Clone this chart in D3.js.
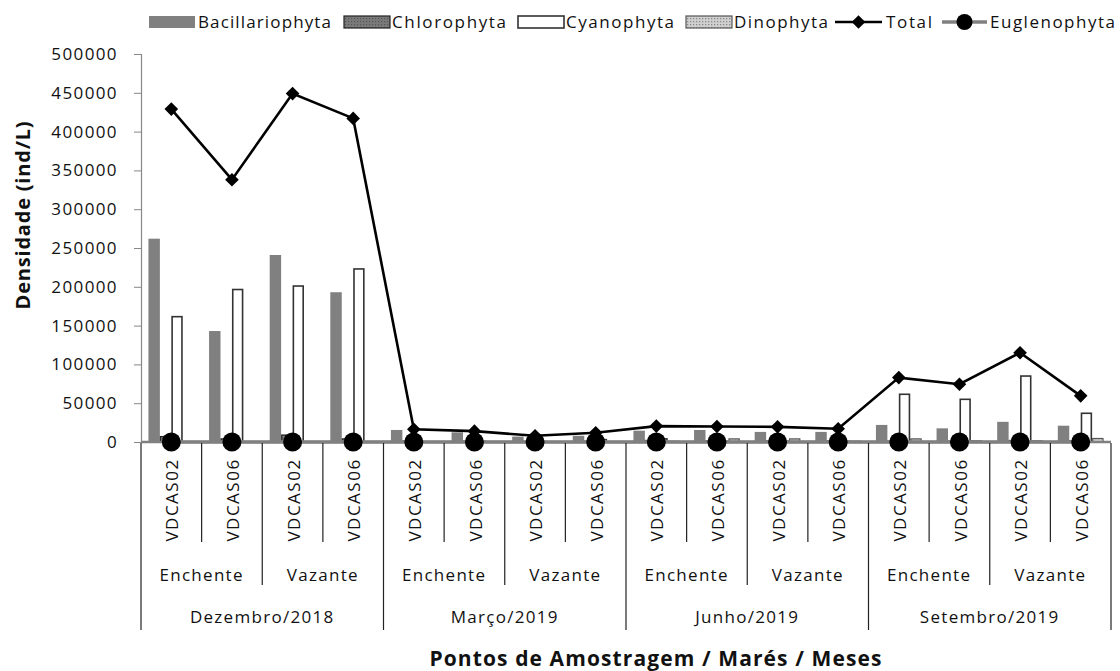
<!DOCTYPE html>
<html><head><meta charset="utf-8">
<script src="https://cdn.jsdelivr.net/npm/d3@7"></script>
<style>
body{margin:0;background:#fff}
text{font-family:"Open Sans",sans-serif;fill:#111}
</style>
</head><body>
<svg id="c" width="1120" height="671"></svg>
<script>
const months=["Dezembro/2018","Março/2019","Junho/2019","Setembro/2019"];
const tides=["Enchente","Vazante"];
const points=["VDCAS02","VDCAS06"];
const seriesNames=["Bacillariophyta","Chlorophyta","Cyanophyta","Dinophyta"];
const bacillariophyta=[262000,143000,241000,193000,15500,12500,7000,8000,14600,15500,13000,13000,22000,17600,26000,21000];
const chlorophyta=[7000,4000,9000,4000,1500,1000,800,1000,2000,1500,1500,1500,1000,1000,2000,1500];
const cyanophyta=[161500,196500,201000,223000,500,1000,500,3000,4000,1000,1000,1000,61500,55000,85000,37000];
const dinophyta=[500,300,500,300,300,300,300,300,1000,4000,4000,1000,4000,1500,1500,4500];
const euglenophyta=[0,0,0,0,0,0,0,0,0,0,0,0,0,0,0,0];
const total=[429000,338000,449000,417000,16500,14000,8000,12000,20500,20000,19500,17000,83000,74500,115000,59500];
const yTicks=[0,50000,100000,150000,200000,250000,300000,350000,400000,450000,500000];

const cats=[];
months.forEach(m=>tides.forEach(t=>points.forEach(p=>cats.push({m,t,p}))));
const seriesVals=[bacillariophyta,chlorophyta,cyanophyta,dinophyta];

const svg=d3.select("#c");
const L=141,R=1111,T=54,B=442;
const x0=d3.scaleBand().domain(d3.range(cats.length)).range([L,R]);
const x1=d3.scaleBand().domain(seriesNames).range([0,x0.bandwidth()]).paddingOuter(0.65);
const y=d3.scaleLinear().domain([0,500000]).range([B,T]);

const defs=svg.append("defs");
const pat=defs.append("pattern").attr("id","dots").attr("width",3).attr("height",3).attr("patternUnits","userSpaceOnUse");
pat.append("rect").attr("width",3).attr("height",3).attr("fill","#d0d0d0");
pat.append("rect").attr("width",1.3).attr("height",1.3).attr("fill","#8a8a8a");
const pat2=defs.append("pattern").attr("id","dark").attr("width",3).attr("height",3).attr("patternUnits","userSpaceOnUse");
pat2.append("rect").attr("width",3).attr("height",3).attr("fill","#7a7a7a");
pat2.append("rect").attr("width",1.2).attr("height",1.2).attr("fill","#555");

const styles={
 Bacillariophyta:{fill:"#808080",stroke:"none",sw:0},
 Chlorophyta:{fill:"url(#dark)",stroke:"#222",sw:1.2},
 Cyanophyta:{fill:"#fff",stroke:"#333",sw:1.6},
 Dinophyta:{fill:"url(#dots)",stroke:"#555",sw:1.2}
};

// y axis
const ya=svg.append("g").attr("transform",`translate(${L},0)`)
 .call(d3.axisLeft(y).tickValues(yTicks).tickSize(7).tickPadding(16).tickFormat(d3.format("d")));
ya.select(".domain").attr("stroke","#888").attr("stroke-width",1.2);
ya.selectAll(".tick line").attr("stroke","#888");
ya.selectAll(".tick text").attr("font-size",17).attr("letter-spacing","1.4px").attr("fill","#111").attr("font-family","Open Sans");

// bars
seriesNames.forEach((s,si)=>{
 const st=styles[s];
 svg.append("g").selectAll("rect").data(seriesVals[si]).join("rect")
  .attr("x",(d,i)=>x0(i)+x1(s)+st.sw/2)
  .attr("width",x1.bandwidth()-st.sw)
  .attr("y",d=>y(d))
  .attr("height",d=>Math.max(0,B-y(d)))
  .attr("fill",st.fill).attr("stroke",st.stroke).attr("stroke-width",st.sw);
});

const cx=i=>x0(i)+x0.bandwidth()/2;

// Euglenophyta line
svg.append("path").datum(euglenophyta)
 .attr("d",d3.line().x((d,i)=>cx(i)).y(d=>y(d)))
 .attr("fill","none").attr("stroke","#808080").attr("stroke-width",3.5);
svg.append("line").attr("x1",L).attr("x2",R).attr("y1",B).attr("y2",B).attr("stroke","#808080").attr("stroke-width",2.5);

// Total line
svg.append("path").datum(total)
 .attr("d",d3.line().x((d,i)=>cx(i)).y(d=>y(d)))
 .attr("fill","none").attr("stroke","#000").attr("stroke-width",2.6);
const diamond="M0,-6.8L6.8,0L0,6.8L-6.8,0Z";
svg.append("g").selectAll("path").data(total).join("path")
 .attr("transform",(d,i)=>`translate(${cx(i)},${y(d)})`).attr("d",diamond).attr("fill","#000");

svg.append("g").selectAll("circle").data(euglenophyta).join("circle")
 .attr("cx",(d,i)=>cx(i)).attr("cy",d=>y(d)).attr("r",9.5).attr("fill","#000");

// category axis lines
const bounds=d3.range(cats.length+1);
svg.append("g").selectAll("line").data(bounds).join("line")
 .attr("x1",i=>i<cats.length?x0(i):R).attr("x2",i=>i<cats.length?x0(i):R)
 .attr("y1",B+1)
 .attr("y2",i=>i%4===0?630:(i%2===0?585:542))
 .attr("stroke","#222").attr("stroke-width",1.2);

// point labels
svg.append("g").selectAll("text").data(cats).join("text")
 .attr("transform",(d,i)=>`translate(${cx(i)+1},500) rotate(-90)`)
 .attr("text-anchor","middle").attr("dy","0.36em")
 .attr("font-size",17).attr("letter-spacing","1.5px").text(d=>d.p);

// tide labels
const tideIdx=d3.range(cats.length/2);
svg.append("g").selectAll("text").data(tideIdx).join("text")
 .attr("x",j=>(x0(j*2)+x0(j*2+1)+x0.bandwidth())/2)
 .attr("y",575).attr("dy","0.36em").attr("text-anchor","middle")
 .attr("font-size",17).attr("letter-spacing","1.3px").text(j=>tides[j%2]);

// month labels
svg.append("g").selectAll("text").data(months).join("text")
 .attr("x",(m,k)=>(x0(k*4)+x0(k*4+3)+x0.bandwidth())/2)
 .attr("y",617).attr("dy","0.36em").attr("text-anchor","middle")
 .attr("font-size",17).attr("letter-spacing","1.3px").text(m=>m);

// axis titles
svg.append("text").attr("transform","translate(23,215) rotate(-90)")
 .attr("text-anchor","middle").attr("dy","0.36em")
 .attr("font-size",20).attr("letter-spacing","0.8px").attr("font-weight","bold").text("Densidade (ind/L)");
svg.append("text").attr("x",656).attr("y",666)
 .attr("text-anchor","middle").attr("font-size",21).attr("letter-spacing","1.1px")
 .attr("font-weight","bold").text("Pontos de Amostragem / Marés / Meses");

// legend
const legend=[
 {name:"Bacillariophyta",type:"bar",s:"Bacillariophyta",x:149,tx:198,tw:133},
 {name:"Chlorophyta",type:"bar",s:"Chlorophyta",x:344,tx:392,tw:114},
 {name:"Cyanophyta",type:"bar",s:"Cyanophyta",x:518,tx:566,tw:108},
 {name:"Dinophyta",type:"bar",s:"Dinophyta",x:686,tx:734,tw:94},
 {name:"Total",type:"total",x:835,tx:886,tw:46},
 {name:"Euglenophyta",type:"eug",x:942,tx:990,tw:125}
];
const ly=22;
legend.forEach(it=>{
 const g=svg.append("g");
 if(it.type==="bar"){
  const st=styles[it.s];
  g.append("rect").attr("x",it.x).attr("y",ly-6).attr("width",46).attr("height",12)
   .attr("fill",st.fill).attr("stroke",st.stroke).attr("stroke-width",st.sw||0);
 } else if(it.type==="total"){
  g.append("line").attr("x1",it.x).attr("x2",it.x+47).attr("y1",ly).attr("y2",ly).attr("stroke","#000").attr("stroke-width",2.6);
  g.append("path").attr("transform",`translate(${it.x+23.5},${ly})`).attr("d",diamond).attr("fill","#000");
 } else {
  g.append("line").attr("x1",it.x).attr("x2",it.x+45).attr("y1",ly).attr("y2",ly).attr("stroke","#808080").attr("stroke-width",3.5);
  g.append("circle").attr("cx",it.x+22.5).attr("cy",ly).attr("r",8).attr("fill","#000");
 }
 g.append("text").attr("x",it.tx).attr("y",ly).attr("dy","0.36em")
  .attr("font-size",17).attr("textLength",it.tw).attr("lengthAdjust","spacing").text(it.name);
});
</script>
</body></html>
